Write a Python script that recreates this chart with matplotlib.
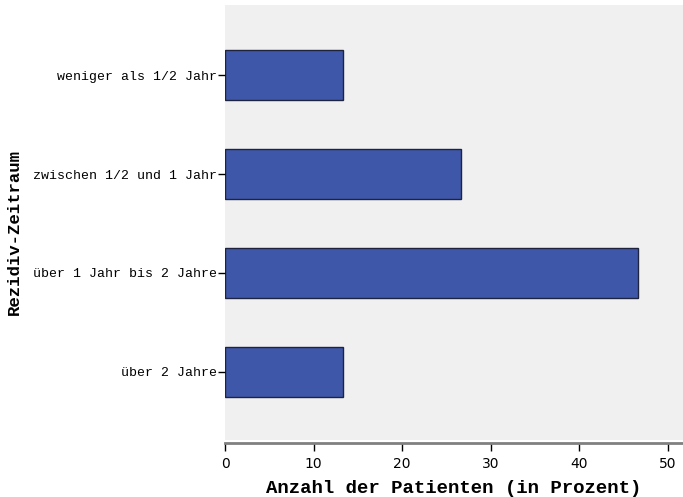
import matplotlib.pyplot as plt

categories = ["weniger als 1/2 Jahr", "zwischen 1/2 und 1 Jahr", "über 1 Jahr bis 2 Jahre", "über 2 Jahre"]
percent = [13.33, 26.67, 46.67, 13.33]
x_ticks = [0, 10, 20, 30, 40, 50]

mono = "Liberation Mono"

fig = plt.figure(figsize=(6.83, 4.97), dpi=100)
ax = fig.add_axes([225 / 683, 1 - 440 / 497, 458 / 683, 435 / 497])
ax.set_facecolor("#F0F0F0")

ypos = list(range(len(categories)))
ax.barh(ypos, percent, height=0.5, color="#3F57A8", edgecolor="#1E2440", linewidth=1)

ax.set_ylim(len(categories) - 1 + 0.69, -0.71)
ax.set_xlim(0, 51.7)
ax.set_yticks(ypos)
ax.set_yticklabels(categories, fontfamily=mono, fontsize=9.5)
ax.set_xticks(x_ticks)
ax.set_xticklabels([str(t) for t in x_ticks], fontfamily="Liberation Sans", fontsize=9)

ax.tick_params(axis="y", length=5, width=1, color="black", pad=1)
ax.tick_params(axis="x", length=6, width=1, color="black", pad=4)

for s in ["top", "right", "left"]:
    ax.spines[s].set_visible(False)
ax.spines["bottom"].set_color("#808080")
ax.spines["bottom"].set_linewidth(2)
ax.spines["bottom"].set_position(("outward", 2))

ax.set_xlabel("Anzahl der Patienten (in Prozent)", fontfamily=mono, fontsize=13.7, fontweight="bold", labelpad=7)
fig.text(14 / 683, 1 - 232 / 497, "Rezidiv-Zeitraum", rotation=90, ha="center", va="center",
         fontfamily=mono, fontsize=12.5, fontweight="bold")

fig.savefig("out.png", dpi=100)
